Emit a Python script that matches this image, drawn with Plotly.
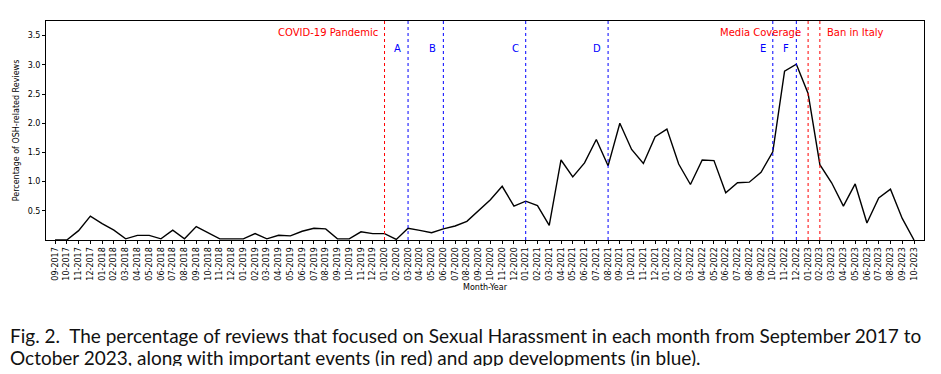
import plotly.graph_objects as go

months = ["09-2017","10-2017","11-2017","12-2017","01-2018","02-2018","03-2018","04-2018","05-2018","06-2018",
          "07-2018","08-2018","09-2018","10-2018","11-2018","12-2018","01-2019","02-2019","03-2019","04-2019",
          "05-2019","06-2019","07-2019","08-2019","09-2019","10-2019","11-2019","12-2019","01-2020","02-2020",
          "03-2020","04-2020","05-2020","06-2020","07-2020","08-2020","09-2020","10-2020","11-2020","12-2020",
          "01-2021","02-2021","03-2021","04-2021","05-2021","06-2021","07-2021","08-2021","09-2021","10-2021",
          "11-2021","12-2021","01-2022","02-2022","03-2022","04-2022","05-2022","06-2022","07-2022","08-2022",
          "09-2022","10-2022","11-2022","12-2022","01-2023","02-2023","03-2023","04-2023","05-2023","06-2023",
          "07-2023","08-2023","09-2023","10-2023"]

values = [0.0, 0.0, 0.16, 0.41, 0.28, 0.17, 0.02, 0.08, 0.08, 0.02,
          0.17, 0.02, 0.23, 0.13, 0.02, 0.02, 0.02, 0.11, 0.02, 0.08,
          0.07, 0.15, 0.2, 0.19, 0.02, 0.02, 0.14, 0.11, 0.11, 0.01,
          0.2, 0.165, 0.125, 0.19, 0.24, 0.32, 0.51, 0.69, 0.92, 0.58,
          0.665, 0.59, 0.25, 1.37, 1.08, 1.32, 1.72, 1.27, 2.0, 1.55,
          1.31, 1.77, 1.90, 1.30, 0.95, 1.37, 1.36, 0.81, 0.98, 0.99,
          1.16, 1.51, 2.89, 3.01, 2.51, 1.29, 0.98, 0.58, 0.96, 0.29,
          0.72, 0.87, 0.37, 0.0]

event_months = ["01-2020", "01-2023", "02-2023"]
event_labels = ["COVID-19 Pandemic", "Media Coverage", "Ban in Italy"]
event_sides = ["left", "left", "right"]

dev_months = ["03-2020", "06-2020", "01-2021", "08-2021", "10-2022", "12-2022"]
dev_labels = ["A", "B", "C", "D", "E", "F"]

y_ticks = [0.5, 1.0, 1.5, 2.0, 2.5, 3.0, 3.5]

caption_lines = [
    "Fig. 2.  The percentage of reviews that focused on Sexual Harassment in each month from September 2017 to",
    "October 2023, along with important events (in red) and app developments (in blue).",
]

x = list(range(len(months)))
RED = "#ff0000"
BLUE = "#0000ff"

# page is offset by the default 8px body margin
W, H = 925, 358
ML, MR, MT, MB = 36, 8, 13, 126
PW = W - ML - MR
PH = H - MT - MB

fig = go.Figure()
fig.add_trace(go.Scatter(x=x, y=values, mode="lines",
                         line=dict(color="black", width=1.4), showlegend=False))

shapes = []
annotations = []
for m, lab, side in zip(event_months, event_labels, event_sides):
    xi = months.index(m)
    shapes.append(dict(type="line", xref="x", yref="paper", x0=xi, x1=xi, y0=0, y1=1,
                       line=dict(color=RED, width=1, dash="dot")))
    annotations.append(dict(x=xi, y=1 - 11 / PH, xref="x", yref="paper", text=lab, showarrow=False,
                            xanchor="right" if side == "left" else "left", yanchor="middle",
                            xshift=-5 if side == "left" else 5,
                            font=dict(color=RED, size=10, family="DejaVu Sans")))
for m, lab in zip(dev_months, dev_labels):
    xi = months.index(m)
    shapes.append(dict(type="line", xref="x", yref="paper", x0=xi, x1=xi, y0=0, y1=1,
                       line=dict(color=BLUE, width=1, dash="dot")))
    annotations.append(dict(x=xi, y=1 - 27 / PH, xref="x", yref="paper", text=lab, showarrow=False,
                            xanchor="right", yanchor="middle", xshift=-5,
                            font=dict(color=BLUE, size=10, family="DejaVu Sans")))

for i, line in enumerate(caption_lines):
    fy = 327 + 22 * i
    annotations.append(dict(x=(-1 - ML) / PW, y=(MT + PH - fy) / PH, xref="paper", yref="paper",
                            text=line, showarrow=False, xanchor="left", yanchor="middle",
                            align="left", borderpad=0,
                            font=dict(color="#111", size=19.0, family="Lato")))

fig.update_layout(
    width=W, height=H,
    margin=dict(l=ML, r=MR, t=MT, b=MB),
    paper_bgcolor="white", plot_bgcolor="white",
    shapes=shapes, annotations=annotations,
    font=dict(family="DejaVu Sans", color="black"),
)
fig.update_xaxes(range=[-0.77, 73.85], tickvals=x, ticktext=months, tickangle=-90,
                 tickfont=dict(size=8), ticks="outside", ticklen=3, tickcolor="black",
                 showline=True, linecolor="black", linewidth=1, mirror=True, showgrid=False,
                 zeroline=False,
                 title=dict(text="Month-Year", font=dict(size=8), standoff=4))
fig.update_yaxes(range=[0, 3.75], tickvals=y_ticks, ticktext=[f"{v:.1f}" for v in y_ticks],
                 tickfont=dict(size=8), ticks="outside", ticklen=3, tickcolor="black",
                 showline=True, linecolor="black", linewidth=1, mirror=True, showgrid=False,
                 zeroline=False,
                 title=dict(text="Percentage of OSH-related Reviews", font=dict(size=8), standoff=6))

fig.write_html("out.html")
